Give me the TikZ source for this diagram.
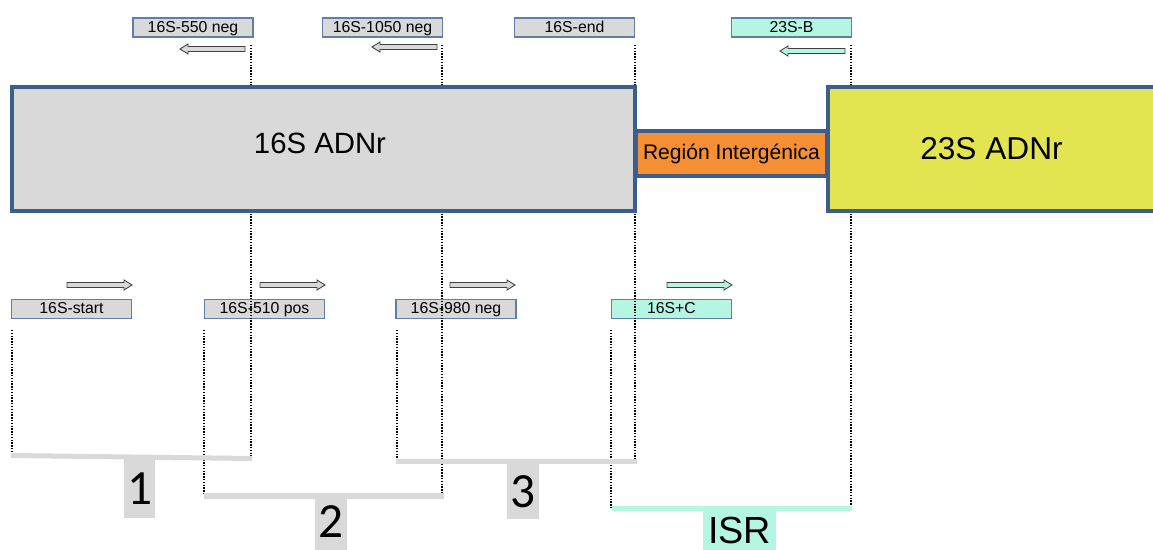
\documentclass[tikz,border=0pt]{standalone}
\usepackage{fontspec}
\setmainfont{Liberation Sans}
\newfontfamily\calibfont{Carlito}
\definecolor{bord}{HTML}{3B5E8C}
\definecolor{pbord}{HTML}{5F7FAA}
\definecolor{gfill}{HTML}{D9D9D9}
\definecolor{cfill}{HTML}{B5F6E3}
\definecolor{ofill}{HTML}{F79034}
\definecolor{yfill}{HTML}{E2E54F}
\definecolor{agray}{HTML}{404040}
\begin{document}
\begin{tikzpicture}[x=0.02cm,y=-0.02cm,
  primer/.style={draw=pbord, line width=0.6pt, minimum width=2.4cm, minimum height=0.38cm, inner sep=0pt, text height=6.6pt, text depth=1.4pt, font=\fontsize{9}{10}\selectfont},
  graybox/.style={primer, fill=gfill},
  cyanbox/.style={primer, fill=cfill},
  bigbox/.style={draw=bord, line width=2.5pt, inner sep=0pt},
  guide/.style={line width=0.8pt, dash pattern=on 0.8pt off 0.8pt},
  tab/.style={inner sep=0pt, minimum width=0.64cm, anchor=north},
  rarr/.pic={\draw[draw=agray, line width=0.5pt, fill=#1] (0,-2.5) -- (57,-2.5) -- (57,-5) -- (65,0) -- (57,5) -- (57,2.5) -- (0,2.5) -- cycle;},
  larr/.pic={\draw[draw=agray, line width=0.5pt, fill=#1] (0,-2.5) -- (-57,-2.5) -- (-57,-5) -- (-65,0) -- (-57,5) -- (-57,2.5) -- (0,2.5) -- cycle;}
]
\useasboundingbox (0,0) rectangle (1153,550);

% guide coordinates
\coordinate (t1) at (251,45);  \coordinate (e1) at (251,458);
\coordinate (t2) at (442,45);  \coordinate (e2) at (442,496);
\coordinate (t3) at (635,45);  \coordinate (e3) at (635,461);
\coordinate (t4) at (851,45);  \coordinate (e4) at (851,508);
\coordinate (s1) at (12,330);  \coordinate (f1) at (12,455);
\coordinate (s2) at (204,330); \coordinate (f2) at (204,495);
\coordinate (s3) at (397,330); \coordinate (f3) at (397,461);
\coordinate (s4) at (611,330); \coordinate (f4) at (611,508);

% primers
\node[graybox] (p550)  at (193,27.5)   {16S-550 neg};
\node[graybox] (p1050) at (382.5,27.5) {16S-1050 neg};
\node[graybox] (pend)  at (574.5,27.5) {16S-end};
\node[cyanbox] (p23B)  at (791.5,27.5) {23S-B};
\node[graybox] (pstart) at (71.5,309)  {16S-start};
\node[graybox] (p510)  at (264.5,309)  {16S-510 pos};
\node[graybox] (p980)  at (456,309)    {16S-980 neg};
\node[cyanbox] (pC)    at (671.5,309)  {16S+C};

% arrows
\pic at (245,49) {larr=gfill};
\pic at (437,47) {larr=gfill};
\pic at (845,51) {larr=cfill};
\pic at (67,285) {rarr=gfill};
\pic at (260,285) {rarr=gfill};
\pic at (450,285) {rarr=gfill};
\pic at (667,285) {rarr=cfill};

% guides
\draw[guide] (t1) -- (e1);
\draw[guide] (t2) -- (e2);
\draw[guide] (t3) -- (e3);
\draw[guide] (t4) -- (e4);
\draw[guide] (s1) -- (f1);
\draw[guide] (s2) -- (f2);
\draw[guide] (s3) -- (f3);
\draw[guide] (s4) -- (f4);

% main boxes
\node[bigbox, fill=ofill, minimum width=3.82cm, minimum height=0.9cm, font=\fontsize{12}{14}\selectfont] (igr) at (731.5,153.5) {Región Intergénica};
\node[bigbox, fill=gfill, minimum width=12.46cm, minimum height=2.48cm] (box16) at (323.5,149) {};
\node[font=\fontsize{16.7}{20}\selectfont] (lab16) at (320,143) {16S ADNr};
\node[bigbox, fill=yfill, minimum width=6.54cm, minimum height=2.48cm, font=\fontsize{18}{22}\selectfont] (box23) at (991.5,149) {23S ADNr};

% brackets
\fill[gfill] (11,453) -- (252,456) -- (252,461) -- (11,458) -- cycle;
\node[tab, fill=gfill, minimum height=1.18cm, font=\calibfont\fontsize{28}{30}\selectfont] (n1) at (139.5,459) {1};
\fill[gfill] (204,493) rectangle (444,499);
\node[tab, fill=gfill, minimum height=1.14cm, font=\calibfont\fontsize{28}{30}\selectfont] (n2) at (331,493) {2};
\fill[gfill] (396,459) rectangle (637,464);
\node[tab, fill=gfill, minimum height=1.12cm, font=\calibfont\fontsize{28}{30}\selectfont] (n3) at (523,463) {3};
\fill[cfill] (612,506) rectangle (852,511);
\node[tab, fill=cfill, minimum width=1.46cm, minimum height=0.8cm, font=\fontsize{21.5}{24}\selectfont] (nisr) at (739.5,510) {ISR};
\end{tikzpicture}
\end{document}
